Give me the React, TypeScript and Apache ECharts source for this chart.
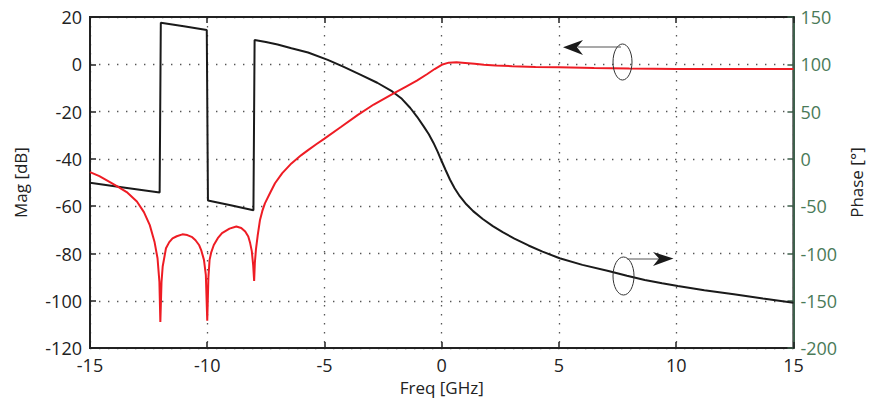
import React, { useEffect, useRef } from "react";
import * as echarts from "echarts";

// Frequency axis ticks
const freqTicks = [-15, -10, -5, 0, 5, 10, 15];

// Magnitude (red, left axis) in dB
const magFreq = [-15, -14.6, -14.15, -13.8, -13.4, -13.0, -12.7, -12.45, -12.25, -12.12, -12.04, -12.0, -11.95, -11.9, -11.76, -11.62, -11.48, -11.3, -11.06, -10.85, -10.64, -10.5, -10.35, -10.25, -10.14, -10.06, -10.0, -9.95, -9.9, -9.83, -9.72, -9.55, -9.37, -9.05, -8.76, -8.55, -8.38, -8.25, -8.17, -8.1, -8.04, -8.0, -7.97, -7.92, -7.85, -7.75, -7.65, -7.54, -7.3, -7.11, -6.8, -6.41, -6.0, -5.7, -5.35, -5.0, -4.3, -3.59, -2.9, -2.03, -1.5, -1.06, -0.63, -0.3, 0.0, 0.3, 0.63, 1.0, 1.4, 1.8, 2.3, 3.0, 4.0, 5.0, 6.5, 8, 10, 12, 15];
const magDb = [-45.6, -47.3, -49.8, -51.8, -54.3, -58, -62.5, -68, -75, -82, -92, -109, -92, -85.5, -77.8, -75.2, -73.6, -72.7, -71.9, -72.2, -73.1, -74.4, -76.4, -78.8, -82.7, -89, -108.4, -90, -82.7, -79.5, -76.4, -73.5, -71.4, -69.5, -68.6, -69.2, -70.7, -72.8, -75.6, -79, -85, -91.6, -84, -78, -72.5, -65.8, -62, -58.8, -54, -50.3, -46, -41.9, -38.5, -36.3, -33.8, -31.4, -26.5, -21.5, -17, -12.2, -9.3, -6.9, -4.2, -2, -0.2, 0.7, 0.9, 0.6, 0.2, -0.2, -0.5, -0.8, -1.1, -1.3, -1.6, -1.8, -2.0, -2.0, -2.0];

// Phase (black, right axis) in degrees
const phaseFreq = [-15, -13.5, -12.03, -11.98, -11.0, -10.02, -9.97, -9.0, -8.03, -7.98, -7.5, -7.0, -6.41, -5.7, -4.86, -4.2, -3.45, -2.75, -2.11, -1.7, -1.34, -1.05, -0.77, -0.55, -0.35, -0.17, 0.0, 0.17, 0.35, 0.55, 0.77, 1.05, 1.34, 1.75, 2.18, 2.6, 3.1, 3.7, 4.3, 5.03, 6.0, 7.11, 7.9, 8.66, 9.4, 10.07, 11.2, 12.46, 13.7, 15];
const phaseDeg = [-25.3, -30.5, -35.6, 144, 140.3, 136.3, -44, -49, -54.2, 125.7, 123.5, 121, 117, 112.5, 104.7, 97.5, 88.9, 80.5, 71.3, 63.5, 53.8, 44.5, 34.4, 26, 16.9, 7.5, -2.5, -12, -21.8, -31, -39.4, -48, -55.2, -63.5, -71, -77.5, -84.3, -91.5, -98, -105, -112, -118.5, -123.5, -128, -131.5, -134.3, -138.8, -143, -147.5, -152];

const magTicks = { min: -120, max: 20, step: 20 };
const phaseTicks = { min: -200, max: 150, step: 50 };

const FONT = "'Open Sans', 'Noto Sans', sans-serif";
const GREEN = "#4a7a58";
const GREEN_LINE = "#3e5f4b";

export default function App() {
  const ref = useRef<HTMLDivElement>(null);
  useEffect(() => {
    if (!ref.current) return;
    const chart = echarts.init(ref.current, undefined, { renderer: "svg" });
    const magData = magFreq.map((f, i) => [f, magDb[i]]);
    const phaseData = phaseFreq.map((f, i) => [f, phaseDeg[i]]);
    const dotted = { type: [1.4, 7.6] as any, color: "#555", width: 1.3 };
    chart.setOption({
      animation: false,
      textStyle: { fontFamily: FONT },
      grid: {
        left: 90,
        width: 710,
        top: 17,
        height: 332,
        show: true,
        borderColor: "#222",
        borderWidth: 2,
        backgroundColor: "transparent",
      },
      xAxis: [
        {
          type: "value",
          min: freqTicks[0],
          max: freqTicks[freqTicks.length - 1],
          interval: 5,
          position: "bottom",
          name: "Freq [GHz]",
          nameLocation: "middle",
          nameGap: 27,
          nameTextStyle: { fontSize: 17, color: "#222", fontFamily: FONT },
          axisLine: { show: true, onZero: false, lineStyle: { color: "#222", width: 2 } },
          axisTick: { show: true, inside: true, length: 6, lineStyle: { color: "#222", width: 1.5 } },
          axisLabel: { fontSize: 18, color: "#222", margin: 8, fontFamily: FONT },
          splitLine: { show: true, lineStyle: dotted },
        },
        {
          type: "value",
          min: freqTicks[0],
          max: freqTicks[freqTicks.length - 1],
          interval: 5,
          position: "top",
          axisLine: { show: true, onZero: false, lineStyle: { color: "#222", width: 2 } },
          axisTick: { show: true, inside: true, length: 6, lineStyle: { color: "#222", width: 1.5 } },
          axisLabel: { show: false },
          splitLine: { show: false },
        },
      ],
      yAxis: [
        {
          type: "value",
          min: magTicks.min,
          max: magTicks.max,
          interval: magTicks.step,
          position: "left",
          name: "Mag [dB]",
          nameLocation: "middle",
          nameGap: 61,
          nameTextStyle: { fontSize: 17, color: "#222", fontFamily: FONT },
          axisLine: { show: true, onZero: false, lineStyle: { color: "#222", width: 2 } },
          axisTick: { show: true, inside: true, length: 6, lineStyle: { color: "#222", width: 1.5 } },
          axisLabel: { fontSize: 18, color: "#222", margin: 8, fontFamily: FONT },
          splitLine: { show: true, lineStyle: dotted },
        },
        {
          type: "value",
          min: phaseTicks.min,
          max: phaseTicks.max,
          interval: phaseTicks.step,
          position: "right",
          name: "Phase [°]",
          nameLocation: "middle",
          nameGap: 53,
          nameTextStyle: { fontSize: 17, color: "#222", fontFamily: FONT },
          axisLine: { show: true, onZero: false, lineStyle: { color: GREEN_LINE, width: 2 } },
          axisTick: { show: true, inside: true, length: 6, lineStyle: { color: GREEN_LINE, width: 1.5 } },
          axisLabel: { fontSize: 18, color: GREEN, margin: 7, fontFamily: FONT },
          splitLine: { show: false },
        },
      ],
      series: [
        {
          type: "line",
          name: "Phase",
          xAxisIndex: 0,
          yAxisIndex: 1,
          data: phaseData,
          showSymbol: false,
          symbol: "none",
          smooth: false,
          lineStyle: { color: "#1a1a1a", width: 2 },
          z: 3,
        },
        {
          type: "line",
          name: "Mag",
          xAxisIndex: 0,
          yAxisIndex: 0,
          data: magData,
          showSymbol: false,
          symbol: "none",
          smooth: false,
          lineStyle: { color: "#ee1c24", width: 2 },
          z: 4,
        },
      ],
      graphic: [
        {
          type: "ellipse",
          shape: { cx: 622.5, cy: 62, rx: 9.5, ry: 18 },
          style: { fill: "none", stroke: "#333", lineWidth: 1 },
          z: 10,
        },
        {
          type: "line",
          shape: { x1: 621, y1: 47, x2: 578, y2: 47 },
          style: { stroke: "#555", lineWidth: 1.2 },
          z: 10,
        },
        {
          type: "polygon",
          shape: { points: [[563, 47.3], [583, 40], [577, 47.3], [583, 55]] },
          style: { fill: "#1a1a1a", stroke: "none" },
          z: 10,
        },
        {
          type: "ellipse",
          shape: { cx: 623.5, cy: 276, rx: 10.5, ry: 19 },
          style: { fill: "none", stroke: "#333", lineWidth: 1 },
          z: 10,
        },
        {
          type: "line",
          shape: { x1: 627, y1: 259, x2: 660, y2: 259 },
          style: { stroke: "#555", lineWidth: 1.2 },
          z: 10,
        },
        {
          type: "polygon",
          shape: { points: [[673.5, 258.5], [653, 252], [659, 258.5], [653, 266]] },
          style: { fill: "#1a1a1a", stroke: "none" },
          z: 10,
        },
      ],
    });
    return () => chart.dispose();
  }, []);
  return <div ref={ref} style={{ width: 873, height: 401, position: "absolute", left: 0, top: 0 }} />;
}
